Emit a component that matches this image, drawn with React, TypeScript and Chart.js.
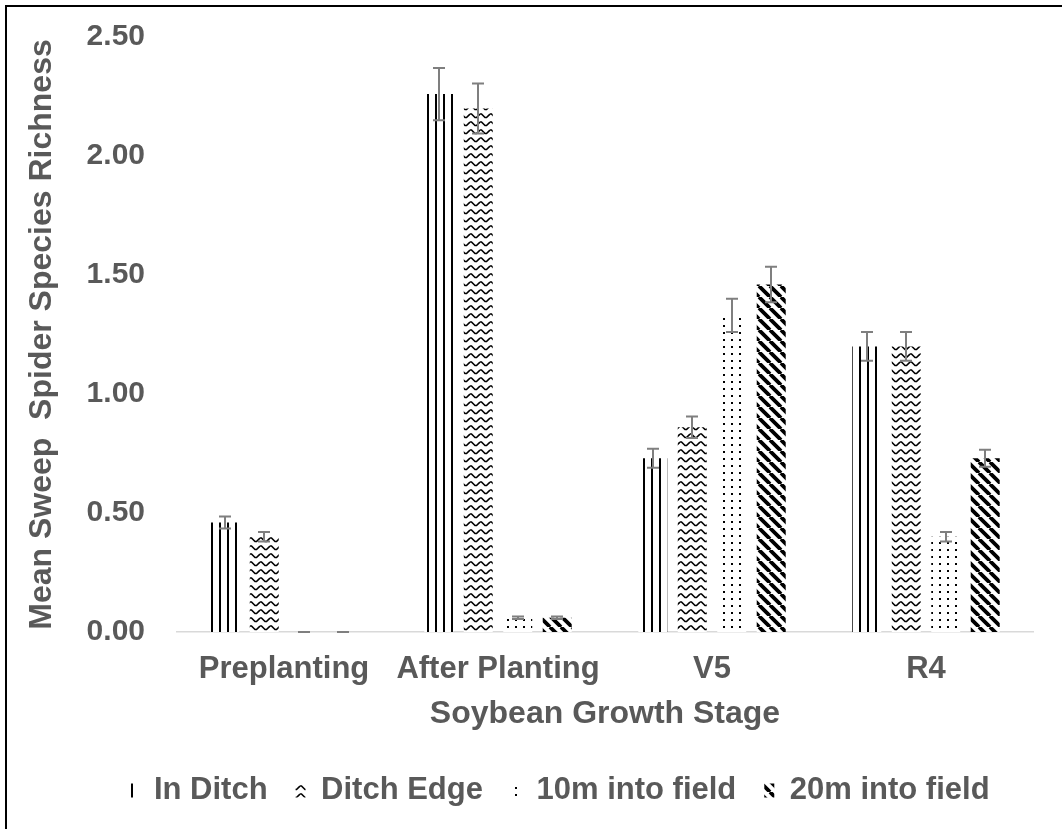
import React, { useEffect, useRef } from "react";
import { Chart, registerables } from "chart.js";

Chart.register(...registerables);

const categories = ["Preplanting", "After Planting", "V5", "R4"];
const seriesNames = ["In Ditch", "Ditch Edge", "10m into field", "20m into field"];
const inDitch = [0.46, 2.26, 0.73, 1.2];
const inDitchErr = [0.025, 0.11, 0.04, 0.06];
const ditchEdge = [0.4, 2.2, 0.86, 1.2];
const ditchEdgeErr = [0.02, 0.105, 0.045, 0.06];
const tenM = [0.0, 0.06, 1.33, 0.4];
const tenMErr = [0.0, 0.005, 0.07, 0.02];
const twentyM = [0.0, 0.06, 1.46, 0.73];
const twentyMErr = [0.0, 0.005, 0.075, 0.036];
const yTicks = [0, 0.5, 1, 1.5, 2, 2.5];

const yTitle = "Mean Sweep  Spider Species Richness";
const xTitle = "Soybean Growth Stage";

const FONT = "'Liberation Sans', Arial, sans-serif";
const TEXT = "#595959";

function makePattern(kind: string): CanvasPattern | string {
  const c = document.createElement("canvas");
  const g = c.getContext("2d");
  if (!g) return "#000";
  if (kind === "vert") {
    c.width = 8; c.height = 8;
    g.fillStyle = "#fff"; g.fillRect(0, 0, 8, 8);
    g.fillStyle = "#000"; g.fillRect(3, 0, 2, 8);
  } else if (kind === "wave") {
    c.width = 10; c.height = 8;
    g.fillStyle = "#fff"; g.fillRect(0, 0, 10, 8);
    g.strokeStyle = "#000"; g.lineWidth = 1.6;
    g.beginPath();
    g.moveTo(0, 2); g.lineTo(1.5, 2); g.lineTo(5, 5.5); g.lineTo(6.5, 5.5); g.lineTo(10, 2);
    g.stroke();
  } else if (kind === "dots") {
    c.width = 8; c.height = 7;
    g.fillStyle = "#fff"; g.fillRect(0, 0, 8, 7);
    g.fillStyle = "#000"; g.fillRect(3, 3, 2, 2);
  } else {
    c.width = 11; c.height = 11;
    g.fillStyle = "#fff"; g.fillRect(0, 0, 11, 11);
    g.strokeStyle = "#000"; g.lineWidth = 3.8;
    g.beginPath();
    for (let k = -1; k <= 1; k++) {
      g.moveTo(k * 11, 0); g.lineTo(k * 11 + 11, 11);
    }
    g.stroke();
  }
  return g.createPattern(c, "repeat") || "#000";
}

const errors = [inDitchErr, ditchEdgeErr, tenMErr, twentyMErr];

const errorBarPlugin = {
  id: "errorBars",
  afterDatasetsDraw(chart: any) {
    const ctx = chart.ctx;
    const ys = chart.scales.y;
    ctx.save();
    ctx.strokeStyle = "#7f7f7f";
    ctx.lineWidth = 2;
    chart.data.datasets.forEach((ds: any, di: number) => {
      const meta = chart.getDatasetMeta(di);
      meta.data.forEach((bar: any, i: number) => {
        const v = ds.data[i];
        const e = errors[di][i];
        const x = Math.round(bar.x);
        const yt = ys.getPixelForValue(v + e);
        const yb = ys.getPixelForValue(Math.max(0, v - e));
        ctx.beginPath();
        ctx.moveTo(x, yt); ctx.lineTo(x, yb);
        ctx.moveTo(x - 6, yt); ctx.lineTo(x + 6, yt);
        ctx.moveTo(x - 6, yb); ctx.lineTo(x + 6, yb);
        ctx.stroke();
      });
    });
    ctx.restore();
  },
};

export default function App() {
  const ref = useRef<HTMLCanvasElement | null>(null);
  useEffect(() => {
    if (!ref.current) return;
    const fills = [makePattern("vert"), makePattern("wave"), makePattern("dots"), makePattern("diag")];
    const values = [inDitch, ditchEdge, tenM, twentyM];
    const chart = new Chart(ref.current, {
      type: "bar",
      data: {
        labels: categories,
        datasets: seriesNames.map((name, i) => ({
          label: name,
          data: values[i],
          backgroundColor: fills[i] as any,
          borderWidth: 0,
          categoryPercentage: 0.738,
          barPercentage: 0.734,
        })),
      },
      options: {
        responsive: false,
        animation: false,
        layout: { padding: { left: 0, right: 0, top: 37, bottom: 0 } },
        plugins: {
          tooltip: { enabled: false },
          legend: {
            position: "bottom",
            labels: {
              boxWidth: 10,
              boxHeight: 14,
              padding: 28,
              color: TEXT,
              font: { family: FONT, size: 31, weight: "bold" },
            },
          },
        },
        scales: {
          x: {
            grid: { display: false, drawTicks: false },
            border: { display: true, color: "#d9d9d9", width: 1.5 },
            ticks: { color: TEXT, padding: 19, font: { family: FONT, size: 31, weight: "bold" } },
            title: {
              display: true,
              text: xTitle,
              color: TEXT,
              padding: { top: 0, bottom: 14 },
              font: { family: FONT, size: 32, weight: "bold" },
            },
            afterFit: (s: any) => { s.height = 115; },
          },
          y: {
            min: 0,
            max: 2.5,
            grid: { display: false, drawTicks: false },
            border: { display: false },
            afterBuildTicks: (s: any) => { s.ticks = yTicks.map((v) => ({ value: v })); },
            ticks: {
              color: TEXT,
              padding: 32,
              font: { family: FONT, size: 30, weight: "bold" },
              callback: (v: any) => Number(v).toFixed(2),
            },
            title: {
              display: true,
              text: yTitle,
              color: TEXT,
              padding: { top: 23, bottom: 0 },
              font: { family: FONT, size: 32, weight: "bold" },
            },
            afterFit: (s: any) => {
              s.width = 177;
              s.paddingTop = 0;
              s.paddingBottom = 0;
            },
          },
          y2: {
            type: "linear",
            position: "right",
            display: true,
            grid: { display: false, drawTicks: false },
            border: { display: false },
            ticks: { display: false },
            afterFit: (s: any) => {
              s.width = 85;
              s.paddingTop = 0;
              s.paddingBottom = 0;
            },
          },
        },
      } as any,
      plugins: [errorBarPlugin],
    });
    return () => chart.destroy();
  }, []);

  return (
    <div style={{ position: "fixed", left: 0, top: 0, width: 1062, height: 829, overflow: "hidden", background: "#fff" }}>
      <canvas ref={ref} width={1118} height={816} style={{ position: "absolute", left: 0, top: 0, width: 1118, height: 816 }} />
      <div style={{ position: "absolute", left: 5, top: 5, width: 3000, height: 3000, borderLeft: "2px solid #000", borderTop: "2px solid #000", pointerEvents: "none" }} />
    </div>
  );
}
